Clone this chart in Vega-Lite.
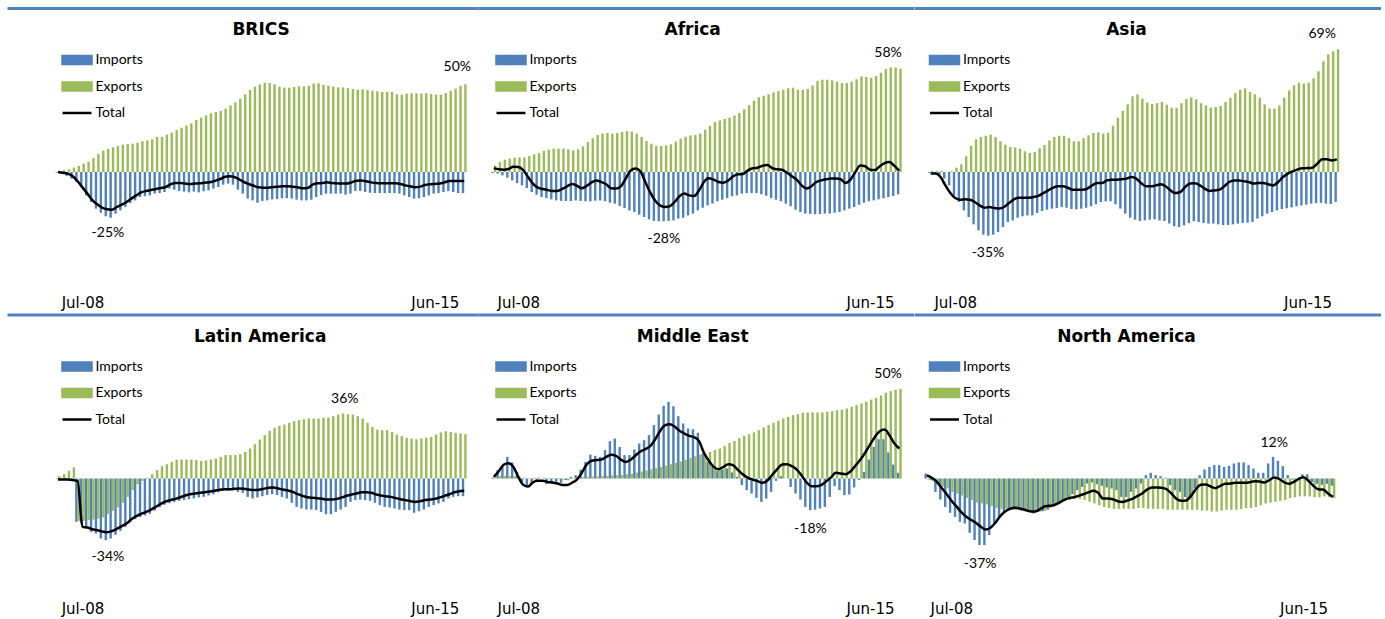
{
"$schema": "https://vega.github.io/schema/vega-lite/v6.json",
"padding": {"left": 5.5, "top": 7, "right": 0, "bottom": 0},
"config": {"view": {"stroke": null}},
"datasets": {
"brics": [
{"m":0,"imp":-0.4,"exp":0.5,"tot":0},{"m":1,"imp":-0.9,"exp":1,"tot":-0.4},{"m":2,"imp":-2.2,"exp":1.5,"tot":-0.9},{"m":3,"imp":-3.7,"exp":2.5,"tot":-2.4},{"m":4,"imp":-5.6,"exp":3.4,"tot":-5.2},{"m":5,"imp":-8.4,"exp":4.7,"tot":-8.6},{"m":6,"imp":-13.1,"exp":5.8,"tot":-12.1},{"m":7,"imp":-16.8,"exp":7.8,"tot":-15.7},{"m":8,"imp":-20.5,"exp":10,"tot":-18.1},{"m":9,"imp":-22.8,"exp":12,"tot":-20},
{"m":10,"imp":-24.8,"exp":13,"tot":-20.9},{"m":11,"imp":-25.6,"exp":13.8,"tot":-21.1},{"m":12,"imp":-23.3,"exp":14.5,"tot":-19.6},{"m":13,"imp":-21.5,"exp":15.3,"tot":-18.3},{"m":14,"imp":-19.6,"exp":15.7,"tot":-16.8},{"m":15,"imp":-17.4,"exp":15.9,"tot":-14.9},{"m":16,"imp":-15.9,"exp":16.4,"tot":-13.1},{"m":17,"imp":-14,"exp":17.2,"tot":-11.4},{"m":18,"imp":-13.6,"exp":17.7,"tot":-10.6},{"m":19,"imp":-13.1,"exp":18.3,"tot":-10.1},
{"m":20,"imp":-12.1,"exp":19.6,"tot":-9.5},{"m":21,"imp":-11.8,"exp":19.6,"tot":-9},{"m":22,"imp":-11.2,"exp":20.9,"tot":-8.4},{"m":23,"imp":-9.3,"exp":22,"tot":-6.9},{"m":24,"imp":-9.9,"exp":23.5,"tot":-6.2},{"m":25,"imp":-10.6,"exp":24.8,"tot":-6.2},{"m":26,"imp":-11,"exp":26,"tot":-6.5},{"m":27,"imp":-11.4,"exp":27.3,"tot":-6.7},{"m":28,"imp":-11,"exp":29.1,"tot":-6.5},{"m":29,"imp":-11.4,"exp":30.4,"tot":-6.3},
{"m":30,"imp":-10.8,"exp":31.7,"tot":-6},{"m":31,"imp":-10.3,"exp":32.9,"tot":-5.8},{"m":32,"imp":-9.3,"exp":33.6,"tot":-5},{"m":33,"imp":-8.4,"exp":34.2,"tot":-4.1},{"m":34,"imp":-7.1,"exp":35.5,"tot":-2.8},{"m":35,"imp":-6.5,"exp":37.3,"tot":-2.4},{"m":36,"imp":-7.1,"exp":39,"tot":-2.8},{"m":37,"imp":-9.9,"exp":41,"tot":-4.1},{"m":38,"imp":-12.1,"exp":43.5,"tot":-5.6},{"m":39,"imp":-14.9,"exp":45.9,"tot":-6.7},
{"m":40,"imp":-15.9,"exp":47.8,"tot":-7.7},{"m":41,"imp":-17.2,"exp":49.1,"tot":-8.6},{"m":42,"imp":-16.2,"exp":50,"tot":-8.8},{"m":43,"imp":-15.9,"exp":49.8,"tot":-8.8},{"m":44,"imp":-15.3,"exp":49.1,"tot":-8.4},{"m":45,"imp":-15.1,"exp":47.8,"tot":-8.2},{"m":46,"imp":-14.7,"exp":47.2,"tot":-8},{"m":47,"imp":-14.7,"exp":47.2,"tot":-8},{"m":48,"imp":-14.9,"exp":47.6,"tot":-8.2},{"m":49,"imp":-15.5,"exp":48,"tot":-8.6},
{"m":50,"imp":-15.9,"exp":48,"tot":-9.1},{"m":51,"imp":-15.9,"exp":48.3,"tot":-9},{"m":52,"imp":-15.5,"exp":49.5,"tot":-7.1},{"m":53,"imp":-14,"exp":49.7,"tot":-6.3},{"m":54,"imp":-12.9,"exp":48.9,"tot":-6.2},{"m":55,"imp":-12.1,"exp":48.3,"tot":-5.8},{"m":56,"imp":-12.1,"exp":47.8,"tot":-6.2},{"m":57,"imp":-12.1,"exp":47.4,"tot":-6.3},{"m":58,"imp":-12.1,"exp":47.4,"tot":-6.5},{"m":59,"imp":-12.7,"exp":47,"tot":-6.5},
{"m":60,"imp":-12.1,"exp":46.5,"tot":-5.8},{"m":61,"imp":-10.6,"exp":46.1,"tot":-4.9},{"m":62,"imp":-10.6,"exp":46.3,"tot":-4.7},{"m":63,"imp":-11.2,"exp":45.9,"tot":-5.2},{"m":64,"imp":-11.6,"exp":45.5,"tot":-5.8},{"m":65,"imp":-11.8,"exp":45.2,"tot":-6.2},{"m":66,"imp":-11.8,"exp":44.8,"tot":-6.3},{"m":67,"imp":-11.8,"exp":44.8,"tot":-6.3},{"m":68,"imp":-11.8,"exp":44.8,"tot":-6.3},{"m":69,"imp":-11.8,"exp":43.5,"tot":-6.3},
{"m":70,"imp":-12.1,"exp":43.3,"tot":-6.7},{"m":71,"imp":-13.1,"exp":43.9,"tot":-7.5},{"m":72,"imp":-14,"exp":44.1,"tot":-8},{"m":73,"imp":-14.9,"exp":44.1,"tot":-8.6},{"m":74,"imp":-14.7,"exp":43.9,"tot":-8.2},{"m":75,"imp":-14,"exp":44.1,"tot":-7.3},{"m":76,"imp":-13.1,"exp":43.7,"tot":-6.9},{"m":77,"imp":-12.1,"exp":43.3,"tot":-6.7},{"m":78,"imp":-11.8,"exp":43.3,"tot":-6.5},{"m":79,"imp":-11.2,"exp":44.2,"tot":-5.8},
{"m":80,"imp":-10.6,"exp":45.5,"tot":-5},{"m":81,"imp":-11.2,"exp":46.7,"tot":-5},{"m":82,"imp":-11.8,"exp":48.3,"tot":-5},{"m":83,"imp":-11.8,"exp":49.1,"tot":-5}
],
"africa": [
{"m":0,"imp":-0.6,"exp":3.7,"tot":2.2},{"m":1,"imp":-0.9,"exp":5.6,"tot":1.5},{"m":2,"imp":-1.9,"exp":6.9,"tot":1.3},{"m":3,"imp":-3.2,"exp":7.5,"tot":1.7},{"m":4,"imp":-4.7,"exp":8,"tot":3},{"m":5,"imp":-6.2,"exp":8.2,"tot":2.8},{"m":6,"imp":-7.5,"exp":8.2,"tot":1.1},{"m":7,"imp":-9,"exp":9,"tot":-2.8},{"m":8,"imp":-11.2,"exp":9.9,"tot":-6.5},{"m":9,"imp":-12.7,"exp":10.6,"tot":-8.8},
{"m":10,"imp":-14,"exp":11.8,"tot":-9.5},{"m":11,"imp":-14.6,"exp":12.5,"tot":-10.1},{"m":12,"imp":-15.3,"exp":13.1,"tot":-10.6},{"m":13,"imp":-15.9,"exp":13.1,"tot":-10.6},{"m":14,"imp":-16.2,"exp":13.1,"tot":-9.5},{"m":15,"imp":-16.2,"exp":12.7,"tot":-8},{"m":16,"imp":-16.2,"exp":12.1,"tot":-6.7},{"m":17,"imp":-15.9,"exp":12.7,"tot":-7.7},{"m":18,"imp":-16.2,"exp":14.4,"tot":-9.1},{"m":19,"imp":-16.4,"exp":16.8,"tot":-7.8},
{"m":20,"imp":-16.4,"exp":18.9,"tot":-5.8},{"m":21,"imp":-16.1,"exp":20.7,"tot":-4.7},{"m":22,"imp":-15.9,"exp":21.5,"tot":-5.6},{"m":23,"imp":-16.4,"exp":21.8,"tot":-6.9},{"m":24,"imp":-17.2,"exp":21.5,"tot":-9.1},{"m":25,"imp":-17.7,"exp":21.8,"tot":-9.3},{"m":26,"imp":-19,"exp":22.4,"tot":-8},{"m":27,"imp":-20.2,"exp":22.9,"tot":-3.7},{"m":28,"imp":-21.5,"exp":22.6,"tot":0.9},{"m":29,"imp":-22.4,"exp":21.5,"tot":1.9},
{"m":30,"imp":-23.9,"exp":19.6,"tot":0.4},{"m":31,"imp":-25.2,"exp":17.4,"tot":-5.6},{"m":32,"imp":-26.5,"exp":15.9,"tot":-11.4},{"m":33,"imp":-27.4,"exp":14.7,"tot":-15.9},{"m":34,"imp":-27.6,"exp":14.6,"tot":-18.7},{"m":35,"imp":-27.6,"exp":14.9,"tot":-19.6},{"m":36,"imp":-27.4,"exp":15.5,"tot":-19.2},{"m":37,"imp":-27.1,"exp":17,"tot":-16.8},{"m":38,"imp":-26.1,"exp":18.7,"tot":-13.6},{"m":39,"imp":-25.6,"exp":19.8,"tot":-12.1},
{"m":40,"imp":-24.3,"exp":20.5,"tot":-13.1},{"m":41,"imp":-23.3,"exp":20.7,"tot":-13.4},{"m":42,"imp":-21.5,"exp":21.5,"tot":-10.3},{"m":43,"imp":-20,"exp":23.7,"tot":-5.6},{"m":44,"imp":-18.7,"exp":25.9,"tot":-3.5},{"m":45,"imp":-17.7,"exp":28,"tot":-4.3},{"m":46,"imp":-16.4,"exp":28.9,"tot":-5.6},{"m":47,"imp":-15.5,"exp":29.7,"tot":-6},{"m":48,"imp":-14.6,"exp":30.4,"tot":-4.7},{"m":49,"imp":-13.6,"exp":31.7,"tot":-2.4},
{"m":50,"imp":-13.1,"exp":33,"tot":-1.3},{"m":51,"imp":-12.1,"exp":35.1,"tot":-1.1},{"m":52,"imp":-11.8,"exp":37.5,"tot":0.9},{"m":53,"imp":-11.8,"exp":39.9,"tot":2.1},{"m":54,"imp":-11.8,"exp":41.8,"tot":2.4},{"m":55,"imp":-12.5,"exp":42.7,"tot":3.5},{"m":56,"imp":-13.3,"exp":43.5,"tot":3.9},{"m":57,"imp":-14.6,"exp":44.6,"tot":2.1},{"m":58,"imp":-15.5,"exp":45.4,"tot":1.5},{"m":59,"imp":-16.4,"exp":46.1,"tot":1.3},
{"m":60,"imp":-17.7,"exp":46.9,"tot":-0.4},{"m":61,"imp":-19.2,"exp":47.2,"tot":-2.4},{"m":62,"imp":-21.1,"exp":46.1,"tot":-4.3},{"m":63,"imp":-22.4,"exp":46.1,"tot":-7.5},{"m":64,"imp":-23.3,"exp":46.5,"tot":-9.3},{"m":65,"imp":-23.5,"exp":48.5,"tot":-8},{"m":66,"imp":-23.7,"exp":51,"tot":-5.6},{"m":67,"imp":-23.5,"exp":51.7,"tot":-4.7},{"m":68,"imp":-23.3,"exp":51.7,"tot":-4.1},{"m":69,"imp":-23.3,"exp":51.3,"tot":-3.7},
{"m":70,"imp":-22.8,"exp":50.6,"tot":-3.7},{"m":71,"imp":-22.4,"exp":49.8,"tot":-4.1},{"m":72,"imp":-21.5,"exp":49.8,"tot":-6.2},{"m":73,"imp":-20.5,"exp":50.6,"tot":-4.3},{"m":74,"imp":-19.6,"exp":51.9,"tot":0},{"m":75,"imp":-18.3,"exp":53.6,"tot":3.7},{"m":76,"imp":-17.2,"exp":53.2,"tot":3.2},{"m":77,"imp":-16.4,"exp":52.8,"tot":1.3},{"m":78,"imp":-15.9,"exp":53.8,"tot":1.1},{"m":79,"imp":-15.3,"exp":55.6,"tot":3.2},
{"m":80,"imp":-14.7,"exp":57.7,"tot":5},{"m":81,"imp":-14,"exp":58.6,"tot":5.6},{"m":82,"imp":-13.4,"exp":58.6,"tot":3.4},{"m":83,"imp":-12.5,"exp":57.9,"tot":0.6}
],
"asia": [
{"m":0,"imp":-0.6,"exp":0.6,"tot":-0.9},{"m":1,"imp":-0.9,"exp":0.6,"tot":-0.9},{"m":2,"imp":-1.3,"exp":0.6,"tot":-2.8},{"m":3,"imp":-3.7,"exp":0,"tot":-7.5},{"m":4,"imp":-7.5,"exp":0.6,"tot":-11.8},{"m":5,"imp":-13.1,"exp":2.4,"tot":-14.6},{"m":6,"imp":-16.8,"exp":4.3,"tot":-15.5},{"m":7,"imp":-21.5,"exp":8.8,"tot":-15.3},{"m":8,"imp":-25.2,"exp":14.6,"tot":-15.5},{"m":9,"imp":-29.3,"exp":18.3,"tot":-16.8},
{"m":10,"imp":-32.7,"exp":19.6,"tot":-18.7},{"m":11,"imp":-35.1,"exp":20.3,"tot":-20},{"m":12,"imp":-35.7,"exp":20.9,"tot":-19.6},{"m":13,"imp":-35.1,"exp":19.6,"tot":-20.2},{"m":14,"imp":-33.6,"exp":17.2,"tot":-20.5},{"m":15,"imp":-30.8,"exp":15.3,"tot":-19.6},{"m":16,"imp":-28,"exp":14,"tot":-17.4},{"m":17,"imp":-27.1,"exp":13.8,"tot":-15.3},{"m":18,"imp":-25.6,"exp":13.1,"tot":-14.4},{"m":19,"imp":-24.8,"exp":11.6,"tot":-14.4},
{"m":20,"imp":-24.3,"exp":10.6,"tot":-14.4},{"m":21,"imp":-24.3,"exp":11.2,"tot":-14},{"m":22,"imp":-23,"exp":13.3,"tot":-13.4},{"m":23,"imp":-21.8,"exp":15.1,"tot":-11.8},{"m":24,"imp":-21.1,"exp":17.7,"tot":-10.3},{"m":25,"imp":-20.5,"exp":19.6,"tot":-8.8},{"m":26,"imp":-20.2,"exp":20.3,"tot":-8},{"m":27,"imp":-19.6,"exp":20.3,"tot":-8},{"m":28,"imp":-20,"exp":19,"tot":-8.8},{"m":29,"imp":-20.7,"exp":17.2,"tot":-9.9},
{"m":30,"imp":-20.9,"exp":17.2,"tot":-9.9},{"m":31,"imp":-20.5,"exp":18.9,"tot":-9.9},{"m":32,"imp":-20,"exp":20.5,"tot":-9.3},{"m":33,"imp":-19.2,"exp":21.8,"tot":-7.5},{"m":34,"imp":-18.1,"exp":22.2,"tot":-6.2},{"m":35,"imp":-16.8,"exp":21.5,"tot":-6.2},{"m":36,"imp":-16.4,"exp":22,"tot":-4.7},{"m":37,"imp":-16.4,"exp":25.9,"tot":-4.3},{"m":38,"imp":-18.1,"exp":30.4,"tot":-4.3},{"m":39,"imp":-20.5,"exp":34.2,"tot":-4.1},
{"m":40,"imp":-23.3,"exp":37.9,"tot":-3.7},{"m":41,"imp":-25.6,"exp":42.4,"tot":-2.8},{"m":42,"imp":-26.7,"exp":43.5,"tot":-3.7},{"m":43,"imp":-27.4,"exp":41.1,"tot":-6.2},{"m":44,"imp":-27.1,"exp":39,"tot":-8},{"m":45,"imp":-26.7,"exp":38.1,"tot":-8},{"m":46,"imp":-26.5,"exp":38.5,"tot":-7.5},{"m":47,"imp":-27.1,"exp":39.2,"tot":-6.9},{"m":48,"imp":-27.4,"exp":37.7,"tot":-8},{"m":49,"imp":-28.9,"exp":36,"tot":-10.3},
{"m":50,"imp":-30.4,"exp":36,"tot":-11.8},{"m":51,"imp":-30.8,"exp":38.5,"tot":-11.2},{"m":52,"imp":-29.9,"exp":40.9,"tot":-8.4},{"m":53,"imp":-28.6,"exp":41.8,"tot":-6.5},{"m":54,"imp":-27.6,"exp":40.7,"tot":-6.3},{"m":55,"imp":-28,"exp":38.5,"tot":-7.5},{"m":56,"imp":-28.6,"exp":37.3,"tot":-9.3},{"m":57,"imp":-28.9,"exp":36,"tot":-10.6},{"m":58,"imp":-28.9,"exp":36.4,"tot":-10.3},{"m":59,"imp":-29.3,"exp":37,"tot":-9.9},
{"m":60,"imp":-29.7,"exp":39.2,"tot":-8},{"m":61,"imp":-29.7,"exp":41.6,"tot":-5.6},{"m":62,"imp":-29.3,"exp":44.2,"tot":-4.7},{"m":63,"imp":-28.9,"exp":46.1,"tot":-4.7},{"m":64,"imp":-28.6,"exp":46.9,"tot":-5.2},{"m":65,"imp":-28.4,"exp":44.8,"tot":-5.6},{"m":66,"imp":-28,"exp":43.5,"tot":-6.5},{"m":67,"imp":-26.1,"exp":41.6,"tot":-6.2},{"m":68,"imp":-24.8,"exp":37.9,"tot":-6.2},{"m":69,"imp":-23.3,"exp":35.5,"tot":-6.9},
{"m":70,"imp":-22.4,"exp":35.5,"tot":-7.5},{"m":71,"imp":-21.5,"exp":37.3,"tot":-5.6},{"m":72,"imp":-20.7,"exp":41.6,"tot":-2.8},{"m":73,"imp":-20.3,"exp":45.7,"tot":-0.9},{"m":74,"imp":-19.8,"exp":48.5,"tot":0.4},{"m":75,"imp":-19.2,"exp":50,"tot":1.5},{"m":76,"imp":-18.7,"exp":49.5,"tot":2.1},{"m":77,"imp":-18.3,"exp":50,"tot":2.2},{"m":78,"imp":-17.7,"exp":52.5,"tot":2.4},{"m":79,"imp":-17.4,"exp":56.4,"tot":4.7},
{"m":80,"imp":-17.2,"exp":62,"tot":7.1},{"m":81,"imp":-17.7,"exp":65.9,"tot":7.1},{"m":82,"imp":-17.9,"exp":67.6,"tot":6.5},{"m":83,"imp":-16.8,"exp":68.7,"tot":7.1}
],
"latam": [
{"m":0,"imp":-0.3,"exp":1.3,"tot":-0.6},{"m":1,"imp":-0.4,"exp":2.4,"tot":-0.6},{"m":2,"imp":-0.6,"exp":4.3,"tot":-0.6},{"m":3,"imp":-1,"exp":6.2,"tot":-0.9},{"m":4,"imp":-24.3,"exp":-23.7,"tot":-1.5},{"m":5,"imp":-25.2,"exp":-23.7,"tot":-27.1},{"m":6,"imp":-27.1,"exp":-23.3,"tot":-27.4},{"m":7,"imp":-29.9,"exp":-23,"tot":-28.4},{"m":8,"imp":-30.8,"exp":-22.4,"tot":-28.9},{"m":9,"imp":-33.6,"exp":-21.8,"tot":-29.7},
{"m":10,"imp":-34.5,"exp":-20,"tot":-30.1},{"m":11,"imp":-33.6,"exp":-18.1,"tot":-29.5},{"m":12,"imp":-31.5,"exp":-16.2,"tot":-28.2},{"m":13,"imp":-29.3,"exp":-13.6,"tot":-26.7},{"m":14,"imp":-27.1,"exp":-10.3,"tot":-25.2},{"m":15,"imp":-24.6,"exp":-6.5,"tot":-22.8},{"m":16,"imp":-22.8,"exp":-3.2,"tot":-21.1},{"m":17,"imp":-21.7,"exp":-1.3,"tot":-19.8},{"m":18,"imp":-20.7,"exp":0.4,"tot":-18.7},{"m":19,"imp":-19.8,"exp":2.4,"tot":-17.4},
{"m":20,"imp":-17.9,"exp":4.7,"tot":-15.9},{"m":21,"imp":-16.1,"exp":6.9,"tot":-14.2},{"m":22,"imp":-14.7,"exp":8,"tot":-12.9},{"m":23,"imp":-13.8,"exp":9.3,"tot":-12.1},{"m":24,"imp":-13.1,"exp":10.6,"tot":-11.4},{"m":25,"imp":-12.5,"exp":10.6,"tot":-10.5},{"m":26,"imp":-12.1,"exp":10.6,"tot":-9.5},{"m":27,"imp":-11.6,"exp":10.6,"tot":-8.8},{"m":28,"imp":-11.2,"exp":10.3,"tot":-8.4},{"m":29,"imp":-10.6,"exp":9.9,"tot":-8},
{"m":30,"imp":-10.3,"exp":10.1,"tot":-7.7},{"m":31,"imp":-9.5,"exp":10.6,"tot":-7.3},{"m":32,"imp":-8.8,"exp":11.2,"tot":-6.9},{"m":33,"imp":-7.7,"exp":12.1,"tot":-6.3},{"m":34,"imp":-6.9,"exp":13.1,"tot":-6},{"m":35,"imp":-6.9,"exp":13.1,"tot":-6},{"m":36,"imp":-6.7,"exp":13.1,"tot":-5.8},{"m":37,"imp":-7.5,"exp":13.6,"tot":-5.6},{"m":38,"imp":-8,"exp":14.9,"tot":-5.8},{"m":39,"imp":-10.3,"exp":16.8,"tot":-6.2},
{"m":40,"imp":-11.2,"exp":19.2,"tot":-6.5},{"m":41,"imp":-10.6,"exp":21.8,"tot":-6.3},{"m":42,"imp":-9.9,"exp":24.3,"tot":-5.8},{"m":43,"imp":-9.3,"exp":26.7,"tot":-5.2},{"m":44,"imp":-8.8,"exp":28.4,"tot":-5},{"m":45,"imp":-9.3,"exp":29.5,"tot":-5.6},{"m":46,"imp":-10.3,"exp":30.2,"tot":-6.2},{"m":47,"imp":-11.2,"exp":31.2,"tot":-6.7},{"m":48,"imp":-13.6,"exp":32.1,"tot":-7.5},{"m":49,"imp":-15.9,"exp":32.7,"tot":-8.8},
{"m":50,"imp":-16.8,"exp":33.2,"tot":-9.7},{"m":51,"imp":-17.4,"exp":33.6,"tot":-10.5},{"m":52,"imp":-17.4,"exp":33.6,"tot":-10.8},{"m":53,"imp":-17.7,"exp":33.6,"tot":-11},{"m":54,"imp":-18.7,"exp":34,"tot":-11.4},{"m":55,"imp":-20,"exp":34.2,"tot":-11.8},{"m":56,"imp":-20,"exp":34.9,"tot":-11.8},{"m":57,"imp":-18.7,"exp":35.8,"tot":-11.4},{"m":58,"imp":-17.4,"exp":36.4,"tot":-10.6},{"m":59,"imp":-15.9,"exp":36,"tot":-9.7},
{"m":60,"imp":-13.1,"exp":35.8,"tot":-9},{"m":61,"imp":-12.1,"exp":34.9,"tot":-8.4},{"m":62,"imp":-11.8,"exp":33.6,"tot":-7.7},{"m":63,"imp":-12.1,"exp":31.2,"tot":-7.7},{"m":64,"imp":-12.5,"exp":28.9,"tot":-8},{"m":65,"imp":-13.6,"exp":27.4,"tot":-9},{"m":66,"imp":-14.9,"exp":27.1,"tot":-9.5},{"m":67,"imp":-15.9,"exp":27.1,"tot":-9.9},{"m":68,"imp":-16.2,"exp":26.1,"tot":-10.3},{"m":69,"imp":-16.8,"exp":24.6,"tot":-11},
{"m":70,"imp":-17.4,"exp":23.7,"tot":-11.6},{"m":71,"imp":-17.7,"exp":22.8,"tot":-12.1},{"m":72,"imp":-17.7,"exp":22.4,"tot":-12.7},{"m":73,"imp":-19.2,"exp":22,"tot":-13.1},{"m":74,"imp":-18.3,"exp":22.4,"tot":-12.7},{"m":75,"imp":-17.4,"exp":22.8,"tot":-12.1},{"m":76,"imp":-15.9,"exp":23.3,"tot":-11.8},{"m":77,"imp":-14.9,"exp":24.6,"tot":-11.4},{"m":78,"imp":-14,"exp":25.8,"tot":-10.6},{"m":79,"imp":-13.1,"exp":26.5,"tot":-9.7},
{"m":80,"imp":-11.2,"exp":26.1,"tot":-8.8},{"m":81,"imp":-10.3,"exp":25.6,"tot":-7.7},{"m":82,"imp":-9.9,"exp":25.2,"tot":-7.1},{"m":83,"imp":-9.9,"exp":24.8,"tot":-6.9}
],
"mideast": [
{"m":0,"imp":0.5,"exp":0.5,"tot":0.9},{"m":1,"imp":4.7,"exp":1.3,"tot":4.1},{"m":2,"imp":6.5,"exp":1.5,"tot":7.7},{"m":3,"imp":12.1,"exp":1.5,"tot":8.6},{"m":4,"imp":9,"exp":1.4,"tot":6.5},{"m":5,"imp":3.7,"exp":1,"tot":0.9},{"m":6,"imp":-1.9,"exp":0.5,"tot":-3.5},{"m":7,"imp":-3.7,"exp":0.3,"tot":-4.5},{"m":8,"imp":-2.8,"exp":0.4,"tot":-2.2},{"m":9,"imp":-0.9,"exp":0.6,"tot":-1.3},
{"m":10,"imp":0,"exp":0.5,"tot":-1.3},{"m":11,"imp":-3.2,"exp":0.3,"tot":-1.9},{"m":12,"imp":-2.4,"exp":0.2,"tot":-2.2},{"m":13,"imp":-1.9,"exp":-0.3,"tot":-2.8},{"m":14,"imp":-2.4,"exp":-0.6,"tot":-3.7},{"m":15,"imp":-0.9,"exp":-1,"tot":-3.7},{"m":16,"imp":0.9,"exp":-0.4,"tot":-2.4},{"m":17,"imp":1.9,"exp":0.4,"tot":-0.6},{"m":18,"imp":5,"exp":0.8,"tot":3.2},{"m":19,"imp":9.3,"exp":0.9,"tot":7.8},
{"m":20,"imp":13.4,"exp":1,"tot":9.9},{"m":21,"imp":12.7,"exp":1.2,"tot":10.3},{"m":22,"imp":12.1,"exp":1.4,"tot":10.6},{"m":23,"imp":15.9,"exp":1.6,"tot":12.1},{"m":24,"imp":20.9,"exp":1.8,"tot":13.3},{"m":25,"imp":22.4,"exp":1.9,"tot":12.7},{"m":26,"imp":17.7,"exp":2,"tot":10.6},{"m":27,"imp":13.1,"exp":2.3,"tot":9.3},{"m":28,"imp":13.1,"exp":2.6,"tot":10.5},{"m":29,"imp":16.2,"exp":3.3,"tot":12.9},
{"m":30,"imp":19.6,"exp":3.9,"tot":15.1},{"m":31,"imp":21.5,"exp":4.5,"tot":16.4},{"m":32,"imp":24.3,"exp":5.2,"tot":18.1},{"m":33,"imp":29.9,"exp":5.8,"tot":21.8},{"m":34,"imp":35.8,"exp":6.5,"tot":26.5},{"m":35,"imp":40.7,"exp":7.2,"tot":29.7},{"m":36,"imp":42.9,"exp":8,"tot":30.4},{"m":37,"imp":40.5,"exp":8.8,"tot":29.1},{"m":38,"imp":34.9,"exp":9.5,"tot":26.7},{"m":39,"imp":30.8,"exp":10.5,"tot":25.2},
{"m":40,"imp":28,"exp":11.5,"tot":23.9},{"m":41,"imp":27.6,"exp":12.5,"tot":23.1},{"m":42,"imp":25.6,"exp":13.4,"tot":20.9},{"m":43,"imp":14,"exp":13.8,"tot":14.4},{"m":44,"imp":9.3,"exp":14.9,"tot":9.9},{"m":45,"imp":6.5,"exp":15.9,"tot":6.5},{"m":46,"imp":4.3,"exp":16.8,"tot":5.2},{"m":47,"imp":5,"exp":18.3,"tot":6.5},{"m":48,"imp":5.6,"exp":20,"tot":8},{"m":49,"imp":3.4,"exp":21,"tot":7.3},
{"m":50,"imp":0.9,"exp":22.6,"tot":4.7},{"m":51,"imp":-3.7,"exp":23.9,"tot":2.2},{"m":52,"imp":-6.5,"exp":24.8,"tot":0.4},{"m":53,"imp":-8.4,"exp":25.8,"tot":-0.6},{"m":54,"imp":-10.8,"exp":27.1,"tot":-1.5},{"m":55,"imp":-13.1,"exp":28.6,"tot":-2.4},{"m":56,"imp":-11.2,"exp":29.9,"tot":-1.1},{"m":57,"imp":-7.5,"exp":31.2,"tot":2.1},{"m":58,"imp":-1.3,"exp":32.3,"tot":5.2},{"m":59,"imp":1.3,"exp":33.6,"tot":7.8},
{"m":60,"imp":0,"exp":34.5,"tot":8},{"m":61,"imp":-4.7,"exp":35.5,"tot":6.9},{"m":62,"imp":-8.4,"exp":36,"tot":5},{"m":63,"imp":-11.8,"exp":36.8,"tot":1.7},{"m":64,"imp":-15.9,"exp":37,"tot":-2.1},{"m":65,"imp":-17.7,"exp":37,"tot":-4.3},{"m":66,"imp":-17.4,"exp":37,"tot":-4.3},{"m":67,"imp":-16.8,"exp":37,"tot":-3.7},{"m":68,"imp":-15.9,"exp":37.3,"tot":-1.7},{"m":69,"imp":-10.3,"exp":37.7,"tot":0.6},
{"m":70,"imp":-4.3,"exp":38.3,"tot":3.2},{"m":71,"imp":-6.5,"exp":38.6,"tot":2.8},{"m":72,"imp":-9.3,"exp":39.2,"tot":2.4},{"m":73,"imp":-9,"exp":40.1,"tot":3.9},{"m":74,"imp":-5,"exp":41.1,"tot":7.1},{"m":75,"imp":-0.9,"exp":42,"tot":10.5},{"m":76,"imp":3.7,"exp":42.9,"tot":14.4},{"m":77,"imp":10.6,"exp":44.2,"tot":19},{"m":78,"imp":17.7,"exp":45.2,"tot":23.3},{"m":79,"imp":22,"exp":46.5,"tot":26.5},
{"m":80,"imp":22,"exp":48,"tot":27.4},{"m":81,"imp":14.6,"exp":48.9,"tot":24.1},{"m":82,"imp":7.8,"exp":49.7,"tot":19.6},{"m":83,"imp":3.2,"exp":50.2,"tot":16.8}
],
"namerica": [
{"m":0,"imp":2.8,"exp":-0.5,"tot":1.7},{"m":1,"imp":-0.9,"exp":-1.5,"tot":0.4},{"m":2,"imp":-7.5,"exp":-3,"tot":-1.7},{"m":3,"imp":-11.8,"exp":-4.5,"tot":-5.2},{"m":4,"imp":-15.9,"exp":-5.5,"tot":-8.6},{"m":5,"imp":-19.2,"exp":-7.5,"tot":-12.3},{"m":6,"imp":-21.5,"exp":-8.5,"tot":-15.5},{"m":7,"imp":-24.3,"exp":-9.5,"tot":-18.7},{"m":8,"imp":-25.2,"exp":-11,"tot":-21.3},{"m":9,"imp":-30.4,"exp":-12,"tot":-23.1},
{"m":10,"imp":-34.5,"exp":-13.5,"tot":-24.8},{"m":11,"imp":-37.3,"exp":-14,"tot":-26.9},{"m":12,"imp":-37.3,"exp":-14.5,"tot":-28.6},{"m":13,"imp":-31.7,"exp":-15.5,"tot":-27.6},{"m":14,"imp":-25.2,"exp":-16.5,"tot":-24.8},{"m":15,"imp":-21.5,"exp":-17,"tot":-21.1},{"m":16,"imp":-18.7,"exp":-17,"tot":-18.5},{"m":17,"imp":-17.4,"exp":-17.2,"tot":-17},{"m":18,"imp":-17.4,"exp":-17.5,"tot":-16.4},{"m":19,"imp":-17.4,"exp":-18,"tot":-16.8},
{"m":20,"imp":-17.7,"exp":-18.5,"tot":-17.5},{"m":21,"imp":-18.7,"exp":-19,"tot":-18.3},{"m":22,"imp":-19.6,"exp":-19,"tot":-18.5},{"m":23,"imp":-18.7,"exp":-18.5,"tot":-17.4},{"m":24,"imp":-18.3,"exp":-18,"tot":-15.7},{"m":25,"imp":-17.4,"exp":-16.5,"tot":-15.3},{"m":26,"imp":-15.9,"exp":-15,"tot":-14.9},{"m":27,"imp":-14.4,"exp":-13.5,"tot":-13.6},{"m":28,"imp":-12.1,"exp":-12.5,"tot":-12.1},{"m":29,"imp":-10.3,"exp":-12,"tot":-11},
{"m":30,"imp":-8.8,"exp":-11.5,"tot":-10.5},{"m":31,"imp":-6.5,"exp":-11.5,"tot":-9.7},{"m":32,"imp":-4.7,"exp":-12,"tot":-8.8},{"m":33,"imp":-2.8,"exp":-13,"tot":-7.8},{"m":34,"imp":-2.2,"exp":-14,"tot":-6.9},{"m":35,"imp":-3.2,"exp":-15,"tot":-8},{"m":36,"imp":-4.1,"exp":-16,"tot":-11.2},{"m":37,"imp":-5,"exp":-16.5,"tot":-11.2},{"m":38,"imp":-5.6,"exp":-17,"tot":-11.6},{"m":39,"imp":-6.5,"exp":-17,"tot":-12.7},
{"m":40,"imp":-10.3,"exp":-17,"tot":-13.1},{"m":41,"imp":-10.3,"exp":-17,"tot":-12.3},{"m":42,"imp":-7.5,"exp":-17,"tot":-11.4},{"m":43,"imp":-5.6,"exp":-16.5,"tot":-9.9},{"m":44,"imp":-2.8,"exp":-16.5,"tot":-8.4},{"m":45,"imp":1.9,"exp":-17,"tot":-6.2},{"m":46,"imp":3.2,"exp":-17,"tot":-5},{"m":47,"imp":1.9,"exp":-17,"tot":-5},{"m":48,"imp":1.3,"exp":-17,"tot":-5.2},{"m":49,"imp":0.4,"exp":-17.5,"tot":-6},
{"m":50,"imp":-3.7,"exp":-17.5,"tot":-8.4},{"m":51,"imp":-6.5,"exp":-17.5,"tot":-11.4},{"m":52,"imp":-7.5,"exp":-17.5,"tot":-12.5},{"m":53,"imp":-10.3,"exp":-17.5,"tot":-12.3},{"m":54,"imp":-11.2,"exp":-17.5,"tot":-9.7},{"m":55,"imp":-5.6,"exp":-17.5,"tot":-6},{"m":56,"imp":1.9,"exp":-18,"tot":-3.5},{"m":57,"imp":5,"exp":-18,"tot":-3.4},{"m":58,"imp":6.5,"exp":-18.5,"tot":-4.5},{"m":59,"imp":7.5,"exp":-18.5,"tot":-5.4},
{"m":60,"imp":7.5,"exp":-18,"tot":-4.1},{"m":61,"imp":6.5,"exp":-17.5,"tot":-3},{"m":62,"imp":7.1,"exp":-17.5,"tot":-2.8},{"m":63,"imp":8.4,"exp":-17.5,"tot":-2.4},{"m":64,"imp":9,"exp":-17,"tot":-2.4},{"m":65,"imp":9,"exp":-16.5,"tot":-2.4},{"m":66,"imp":7.5,"exp":-16.5,"tot":-2.1},{"m":67,"imp":5.6,"exp":-16,"tot":-1.5},{"m":68,"imp":3.2,"exp":-15,"tot":-1.7},{"m":69,"imp":3.2,"exp":-14,"tot":-2.2},
{"m":70,"imp":8.4,"exp":-13.5,"tot":-0.9},{"m":71,"imp":12.1,"exp":-13,"tot":0.6},{"m":72,"imp":9.9,"exp":-12.5,"tot":-0.2},{"m":73,"imp":6.9,"exp":-12,"tot":-2.1},{"m":74,"imp":1.9,"exp":-11,"tot":-3},{"m":75,"imp":-0.6,"exp":-10.5,"tot":-1.9},{"m":76,"imp":0,"exp":-10,"tot":-0.2},{"m":77,"imp":2.4,"exp":-10,"tot":0.7},{"m":78,"imp":2.4,"exp":-10,"tot":-1.3},{"m":79,"imp":-2,"exp":-10.5,"tot":-4.1},
{"m":80,"imp":-3,"exp":-10.5,"tot":-6},{"m":81,"imp":-3.5,"exp":-10,"tot":-6.2},{"m":82,"imp":-3,"exp":-10.5,"tot":-8.4},{"m":83,"imp":-4,"exp":-11,"tot":-10.3}
]
},
"vconcat": [
{"hconcat": [
{"width": 471, "height": 250, "data": {"name": "brics"}, "layer": [
 {"data": {"values": [{}]}, "mark": {"type": "rule", "color": "#4F81BD", "strokeWidth": 3}, "encoding": {"y": {"datum": 91.5, "type": "quantitative", "scale": {"domain": [-70, 70], "nice": false, "zero": false}, "axis": null}}},
 {"mark": {"type": "bar", "orient": "vertical", "width": 2.4, "xOffset": -1.2}, "encoding": {
   "x": {"field": "m", "type": "quantitative", "scale": {"domain": [-9.3, 84.9], "nice": false, "zero": false}, "axis": {"values": [5, 77], "labelExpr": "datum.value == 5 ? 'Jul-08' : 'Jun-15'", "ticks": false, "domain": false, "grid": false, "title": null, "labelPadding": -2, "labelFont": "DejaVu Sans", "labelFontSize": 15, "labelColor": "#000000", "labelFlush": false, "labelOverlap": false, "labelAngle": 0}},
   "y": {"field": "imp", "type": "quantitative", "axis": null},
   "color": {"datum": "Imports", "scale": {"domain": ["Imports", "Exports", "Total"], "range": ["#4F81BD", "#9BBB59", "#000000"]}, "legend": {"title": null, "orient": "none", "direction": "vertical", "legendX": 58, "legendY": 1.5, "padding": 0, "symbolSize": 400, "symbolStrokeWidth": 2.5, "rowPadding": 5.5, "labelOffset": 7, "labelFont": "Lato", "labelFontSize": 14, "labelColor": "#000000", "encode": {"symbols": {"update": {"shape": {"signal": "datum.value === 'Total' ? 'M-1.45,0H1.45' : 'M-1.45,-0.4H1.45V0.4H-1.45Z'"}, "fill": {"signal": "datum.value === 'Imports' ? '#4F81BD' : datum.value === 'Exports' ? '#9BBB59' : 'transparent'"}, "stroke": {"signal": "datum.value === 'Total' ? '#000000' : 'transparent'"}, "strokeWidth": {"value": 2.5}, "opacity": {"value": 1}, "size": {"value": 400}}}}}}}},
 {"mark": {"type": "bar", "orient": "vertical", "width": 2.4, "xOffset": 1.2}, "encoding": {"x": {"field": "m", "type": "quantitative"}, "y": {"field": "exp", "type": "quantitative"}, "color": {"datum": "Exports"}}},
 {"mark": {"type": "line", "strokeWidth": 2.5, "interpolate": "monotone"}, "encoding": {"x": {"field": "m", "type": "quantitative"}, "y": {"field": "tot", "type": "quantitative"}, "color": {"datum": "Total"}}},
 {"data": {"values": [{"m": 81.6, "v": 58.7, "label": "50%"}, {"m": 10.2, "v": -34.4, "label": "-25%"}]}, "mark": {"type": "text", "font": "Lato", "fontSize": 14, "color": "#000000"}, "encoding": {"x": {"field": "m", "type": "quantitative"}, "y": {"field": "v", "type": "quantitative"}, "text": {"field": "label"}}},
 {"data": {"values": [{}]}, "mark": {"type": "text", "font": "DejaVu Sans", "fontWeight": "bold", "fontSize": 17, "color": "#000000", "text": "BRICS"}, "encoding": {"x": {"datum": 41.5, "type": "quantitative"}, "y": {"datum": 79.5, "type": "quantitative"}}}
]},
{"width": 435.5, "height": 250, "data": {"name": "africa"}, "layer": [
 {"data": {"values": [{}]}, "mark": {"type": "rule", "color": "#4F81BD", "strokeWidth": 3}, "encoding": {"y": {"datum": 91.5, "type": "quantitative", "scale": {"domain": [-70, 70], "nice": false, "zero": false}, "axis": null}}},
 {"mark": {"type": "bar", "orient": "vertical", "width": 2.4, "xOffset": -1.2}, "encoding": {
   "x": {"field": "m", "type": "quantitative", "scale": {"domain": [-2.12, 84.98], "nice": false, "zero": false}, "axis": {"values": [5, 77], "labelExpr": "datum.value == 5 ? 'Jul-08' : 'Jun-15'", "ticks": false, "domain": false, "grid": false, "title": null, "labelPadding": -2, "labelFont": "DejaVu Sans", "labelFontSize": 15, "labelColor": "#000000", "labelFlush": false, "labelOverlap": false, "labelAngle": 0}},
   "y": {"field": "imp", "type": "quantitative", "axis": null},
   "color": {"datum": "Imports", "scale": {"domain": ["Imports", "Exports", "Total"], "range": ["#4F81BD", "#9BBB59", "#000000"]}, "legend": {"title": null, "orient": "none", "direction": "vertical", "legendX": 21, "legendY": 1.5, "padding": 0, "symbolSize": 400, "symbolStrokeWidth": 2.5, "rowPadding": 5.5, "labelOffset": 7, "labelFont": "Lato", "labelFontSize": 14, "labelColor": "#000000", "encode": {"symbols": {"update": {"shape": {"signal": "datum.value === 'Total' ? 'M-1.45,0H1.45' : 'M-1.45,-0.4H1.45V0.4H-1.45Z'"}, "fill": {"signal": "datum.value === 'Imports' ? '#4F81BD' : datum.value === 'Exports' ? '#9BBB59' : 'transparent'"}, "stroke": {"signal": "datum.value === 'Total' ? '#000000' : 'transparent'"}, "strokeWidth": {"value": 2.5}, "opacity": {"value": 1}, "size": {"value": 400}}}}}}}},
 {"mark": {"type": "bar", "orient": "vertical", "width": 2.4, "xOffset": 1.2}, "encoding": {"x": {"field": "m", "type": "quantitative"}, "y": {"field": "exp", "type": "quantitative"}, "color": {"datum": "Exports"}}},
 {"mark": {"type": "line", "strokeWidth": 2.5, "interpolate": "monotone"}, "encoding": {"x": {"field": "m", "type": "quantitative"}, "y": {"field": "tot", "type": "quantitative"}, "color": {"datum": "Total"}}},
 {"data": {"values": [{"m": 80.7, "v": 66.9, "label": "58%"}, {"m": 34.8, "v": -37.3, "label": "-28%"}]}, "mark": {"type": "text", "font": "Lato", "fontSize": 14, "color": "#000000"}, "encoding": {"x": {"field": "m", "type": "quantitative"}, "y": {"field": "v", "type": "quantitative"}, "text": {"field": "label"}}},
 {"data": {"values": [{}]}, "mark": {"type": "text", "font": "DejaVu Sans", "fontWeight": "bold", "fontSize": 17, "color": "#000000", "text": "Africa"}, "encoding": {"x": {"datum": 40.7, "type": "quantitative"}, "y": {"datum": 79.5, "type": "quantitative"}}}
]},
{"width": 466.5, "height": 250, "data": {"name": "asia"}, "layer": [
 {"data": {"values": [{}]}, "mark": {"type": "rule", "color": "#4F81BD", "strokeWidth": 3}, "encoding": {"y": {"datum": 91.5, "type": "quantitative", "scale": {"domain": [-70, 70], "nice": false, "zero": false}, "axis": null}}},
 {"mark": {"type": "bar", "orient": "vertical", "width": 2.4, "xOffset": -1.2}, "encoding": {
   "x": {"field": "m", "type": "quantitative", "scale": {"domain": [-2.3, 91.0], "nice": false, "zero": false}, "axis": {"values": [5, 77], "labelExpr": "datum.value == 5 ? 'Jul-08' : 'Jun-15'", "ticks": false, "domain": false, "grid": false, "title": null, "labelPadding": -2, "labelFont": "DejaVu Sans", "labelFontSize": 15, "labelColor": "#000000", "labelFlush": false, "labelOverlap": false, "labelAngle": 0}},
   "y": {"field": "imp", "type": "quantitative", "axis": null},
   "color": {"datum": "Imports", "scale": {"domain": ["Imports", "Exports", "Total"], "range": ["#4F81BD", "#9BBB59", "#000000"]}, "legend": {"title": null, "orient": "none", "direction": "vertical", "legendX": 18.5, "legendY": 1.5, "padding": 0, "symbolSize": 400, "symbolStrokeWidth": 2.5, "rowPadding": 5.5, "labelOffset": 7, "labelFont": "Lato", "labelFontSize": 14, "labelColor": "#000000", "encode": {"symbols": {"update": {"shape": {"signal": "datum.value === 'Total' ? 'M-1.45,0H1.45' : 'M-1.45,-0.4H1.45V0.4H-1.45Z'"}, "fill": {"signal": "datum.value === 'Imports' ? '#4F81BD' : datum.value === 'Exports' ? '#9BBB59' : 'transparent'"}, "stroke": {"signal": "datum.value === 'Total' ? '#000000' : 'transparent'"}, "strokeWidth": {"value": 2.5}, "opacity": {"value": 1}, "size": {"value": 400}}}}}}}},
 {"mark": {"type": "bar", "orient": "vertical", "width": 2.4, "xOffset": 1.2}, "encoding": {"x": {"field": "m", "type": "quantitative"}, "y": {"field": "exp", "type": "quantitative"}, "color": {"datum": "Exports"}}},
 {"mark": {"type": "line", "strokeWidth": 2.5, "interpolate": "monotone"}, "encoding": {"x": {"field": "m", "type": "quantitative"}, "y": {"field": "tot", "type": "quantitative"}, "color": {"datum": "Total"}}},
 {"data": {"values": [{"m": 80, "v": 77.5, "label": "69%"}, {"m": 11.7, "v": -45.1, "label": "-35%"}]}, "mark": {"type": "text", "font": "Lato", "fontSize": 14, "color": "#000000"}, "encoding": {"x": {"field": "m", "type": "quantitative"}, "y": {"field": "v", "type": "quantitative"}, "text": {"field": "label"}}},
 {"data": {"values": [{}]}, "mark": {"type": "text", "font": "DejaVu Sans", "fontWeight": "bold", "fontSize": 17, "color": "#000000", "text": "Asia"}, "encoding": {"x": {"datum": 40, "type": "quantitative"}, "y": {"datum": 79.5, "type": "quantitative"}}}
]}
], "spacing": 0, "bounds": "flush", "resolve": {"scale": {"color": "independent"}, "legend": {"color": "independent"}}},
{"hconcat": [
{"width": 471, "height": 250, "data": {"name": "latam"}, "layer": [
 {"data": {"values": [{}]}, "mark": {"type": "rule", "color": "#4F81BD", "strokeWidth": 3}, "encoding": {"y": {"datum": 91.5, "type": "quantitative", "scale": {"domain": [-70, 70], "nice": false, "zero": false}, "axis": null}}},
 {"mark": {"type": "bar", "orient": "vertical", "width": 2.4, "xOffset": -1.2}, "encoding": {
   "x": {"field": "m", "type": "quantitative", "scale": {"domain": [-9.3, 84.9], "nice": false, "zero": false}, "axis": {"values": [5, 77], "labelExpr": "datum.value == 5 ? 'Jul-08' : 'Jun-15'", "ticks": false, "domain": false, "grid": false, "title": null, "labelPadding": -2, "labelFont": "DejaVu Sans", "labelFontSize": 15, "labelColor": "#000000", "labelFlush": false, "labelOverlap": false, "labelAngle": 0}},
   "y": {"field": "imp", "type": "quantitative", "axis": null},
   "color": {"datum": "Imports", "scale": {"domain": ["Imports", "Exports", "Total"], "range": ["#4F81BD", "#9BBB59", "#000000"]}, "legend": {"title": null, "orient": "none", "direction": "vertical", "legendX": 58, "legendY": 1.5, "padding": 0, "symbolSize": 400, "symbolStrokeWidth": 2.5, "rowPadding": 5.5, "labelOffset": 7, "labelFont": "Lato", "labelFontSize": 14, "labelColor": "#000000", "encode": {"symbols": {"update": {"shape": {"signal": "datum.value === 'Total' ? 'M-1.45,0H1.45' : 'M-1.45,-0.4H1.45V0.4H-1.45Z'"}, "fill": {"signal": "datum.value === 'Imports' ? '#4F81BD' : datum.value === 'Exports' ? '#9BBB59' : 'transparent'"}, "stroke": {"signal": "datum.value === 'Total' ? '#000000' : 'transparent'"}, "strokeWidth": {"value": 2.5}, "opacity": {"value": 1}, "size": {"value": 400}}}}}}}},
 {"mark": {"type": "bar", "orient": "vertical", "width": 2.4, "xOffset": 1.2}, "encoding": {"x": {"field": "m", "type": "quantitative"}, "y": {"field": "exp", "type": "quantitative"}, "color": {"datum": "Exports"}}},
 {"mark": {"type": "line", "strokeWidth": 2.5, "interpolate": "monotone"}, "encoding": {"x": {"field": "m", "type": "quantitative"}, "y": {"field": "tot", "type": "quantitative"}, "color": {"datum": "Total"}}},
 {"data": {"values": [{"m": 58.6, "v": 44.8, "label": "36%"}, {"m": 10.2, "v": -44.2, "label": "-34%"}]}, "mark": {"type": "text", "font": "Lato", "fontSize": 14, "color": "#000000"}, "encoding": {"x": {"field": "m", "type": "quantitative"}, "y": {"field": "v", "type": "quantitative"}, "text": {"field": "label"}}},
 {"data": {"values": [{}]}, "mark": {"type": "text", "font": "DejaVu Sans", "fontWeight": "bold", "fontSize": 17, "color": "#000000", "text": "Latin America"}, "encoding": {"x": {"datum": 41.3, "type": "quantitative"}, "y": {"datum": 79.5, "type": "quantitative"}}}
]},
{"width": 435.5, "height": 250, "data": {"name": "mideast"}, "layer": [
 {"data": {"values": [{}]}, "mark": {"type": "rule", "color": "#4F81BD", "strokeWidth": 3}, "encoding": {"y": {"datum": 91.5, "type": "quantitative", "scale": {"domain": [-70, 70], "nice": false, "zero": false}, "axis": null}}},
 {"mark": {"type": "bar", "orient": "vertical", "width": 2.4, "xOffset": -1.2}, "encoding": {
   "x": {"field": "m", "type": "quantitative", "scale": {"domain": [-2.12, 84.98], "nice": false, "zero": false}, "axis": {"values": [5, 77], "labelExpr": "datum.value == 5 ? 'Jul-08' : 'Jun-15'", "ticks": false, "domain": false, "grid": false, "title": null, "labelPadding": -2, "labelFont": "DejaVu Sans", "labelFontSize": 15, "labelColor": "#000000", "labelFlush": false, "labelOverlap": false, "labelAngle": 0}},
   "y": {"field": "imp", "type": "quantitative", "axis": null},
   "color": {"datum": "Imports", "scale": {"domain": ["Imports", "Exports", "Total"], "range": ["#4F81BD", "#9BBB59", "#000000"]}, "legend": {"title": null, "orient": "none", "direction": "vertical", "legendX": 21, "legendY": 1.5, "padding": 0, "symbolSize": 400, "symbolStrokeWidth": 2.5, "rowPadding": 5.5, "labelOffset": 7, "labelFont": "Lato", "labelFontSize": 14, "labelColor": "#000000", "encode": {"symbols": {"update": {"shape": {"signal": "datum.value === 'Total' ? 'M-1.45,0H1.45' : 'M-1.45,-0.4H1.45V0.4H-1.45Z'"}, "fill": {"signal": "datum.value === 'Imports' ? '#4F81BD' : datum.value === 'Exports' ? '#9BBB59' : 'transparent'"}, "stroke": {"signal": "datum.value === 'Total' ? '#000000' : 'transparent'"}, "strokeWidth": {"value": 2.5}, "opacity": {"value": 1}, "size": {"value": 400}}}}}}}},
 {"mark": {"type": "bar", "orient": "vertical", "width": 2.4, "xOffset": 1.2}, "encoding": {"x": {"field": "m", "type": "quantitative"}, "y": {"field": "exp", "type": "quantitative"}, "color": {"datum": "Exports"}}},
 {"mark": {"type": "line", "strokeWidth": 2.5, "interpolate": "monotone"}, "encoding": {"x": {"field": "m", "type": "quantitative"}, "y": {"field": "tot", "type": "quantitative"}, "color": {"datum": "Total"}}},
 {"data": {"values": [{"m": 80.7, "v": 58.8, "label": "50%"}, {"m": 64.8, "v": -28, "label": "-18%"}]}, "mark": {"type": "text", "font": "Lato", "fontSize": 14, "color": "#000000"}, "encoding": {"x": {"field": "m", "type": "quantitative"}, "y": {"field": "v", "type": "quantitative"}, "text": {"field": "label"}}},
 {"data": {"values": [{}]}, "mark": {"type": "text", "font": "DejaVu Sans", "fontWeight": "bold", "fontSize": 17, "color": "#000000", "text": "Middle East"}, "encoding": {"x": {"datum": 40.7, "type": "quantitative"}, "y": {"datum": 79.5, "type": "quantitative"}}}
]},
{"width": 466.5, "height": 250, "data": {"name": "namerica"}, "layer": [
 {"data": {"values": [{}]}, "mark": {"type": "rule", "color": "#4F81BD", "strokeWidth": 3}, "encoding": {"y": {"datum": 91.5, "type": "quantitative", "scale": {"domain": [-70, 70], "nice": false, "zero": false}, "axis": null}}},
 {"mark": {"type": "bar", "orient": "vertical", "width": 2.4, "xOffset": -1.2}, "encoding": {
   "x": {"field": "m", "type": "quantitative", "scale": {"domain": [-1.5, 91.8], "nice": false, "zero": false}, "axis": {"values": [5, 77], "labelExpr": "datum.value == 5 ? 'Jul-08' : 'Jun-15'", "ticks": false, "domain": false, "grid": false, "title": null, "labelPadding": -2, "labelFont": "DejaVu Sans", "labelFontSize": 15, "labelColor": "#000000", "labelFlush": false, "labelOverlap": false, "labelAngle": 0}},
   "y": {"field": "imp", "type": "quantitative", "axis": null},
   "color": {"datum": "Imports", "scale": {"domain": ["Imports", "Exports", "Total"], "range": ["#4F81BD", "#9BBB59", "#000000"]}, "legend": {"title": null, "orient": "none", "direction": "vertical", "legendX": 18.5, "legendY": 1.5, "padding": 0, "symbolSize": 400, "symbolStrokeWidth": 2.5, "rowPadding": 5.5, "labelOffset": 7, "labelFont": "Lato", "labelFontSize": 14, "labelColor": "#000000", "encode": {"symbols": {"update": {"shape": {"signal": "datum.value === 'Total' ? 'M-1.45,0H1.45' : 'M-1.45,-0.4H1.45V0.4H-1.45Z'"}, "fill": {"signal": "datum.value === 'Imports' ? '#4F81BD' : datum.value === 'Exports' ? '#9BBB59' : 'transparent'"}, "stroke": {"signal": "datum.value === 'Total' ? '#000000' : 'transparent'"}, "strokeWidth": {"value": 2.5}, "opacity": {"value": 1}, "size": {"value": 400}}}}}}}},
 {"mark": {"type": "bar", "orient": "vertical", "width": 2.4, "xOffset": 1.2}, "encoding": {"x": {"field": "m", "type": "quantitative"}, "y": {"field": "exp", "type": "quantitative"}, "color": {"datum": "Exports"}}},
 {"mark": {"type": "line", "strokeWidth": 2.5, "interpolate": "monotone"}, "encoding": {"x": {"field": "m", "type": "quantitative"}, "y": {"field": "tot", "type": "quantitative"}, "color": {"datum": "Total"}}},
 {"data": {"values": [{"m": 71, "v": 19.9, "label": "12%"}, {"m": 10.9, "v": -47.6, "label": "-37%"}]}, "mark": {"type": "text", "font": "Lato", "fontSize": 14, "color": "#000000"}, "encoding": {"x": {"field": "m", "type": "quantitative"}, "y": {"field": "v", "type": "quantitative"}, "text": {"field": "label"}}},
 {"data": {"values": [{}]}, "mark": {"type": "text", "font": "DejaVu Sans", "fontWeight": "bold", "fontSize": 17, "color": "#000000", "text": "North America"}, "encoding": {"x": {"datum": 40.8, "type": "quantitative"}, "y": {"datum": 79.5, "type": "quantitative"}}}
]}
], "spacing": 0, "bounds": "flush", "resolve": {"scale": {"color": "independent"}, "legend": {"color": "independent"}}}
],
"spacing": 3.5,
"resolve": {"scale": {"color": "independent"}, "legend": {"color": "independent"}}
}
